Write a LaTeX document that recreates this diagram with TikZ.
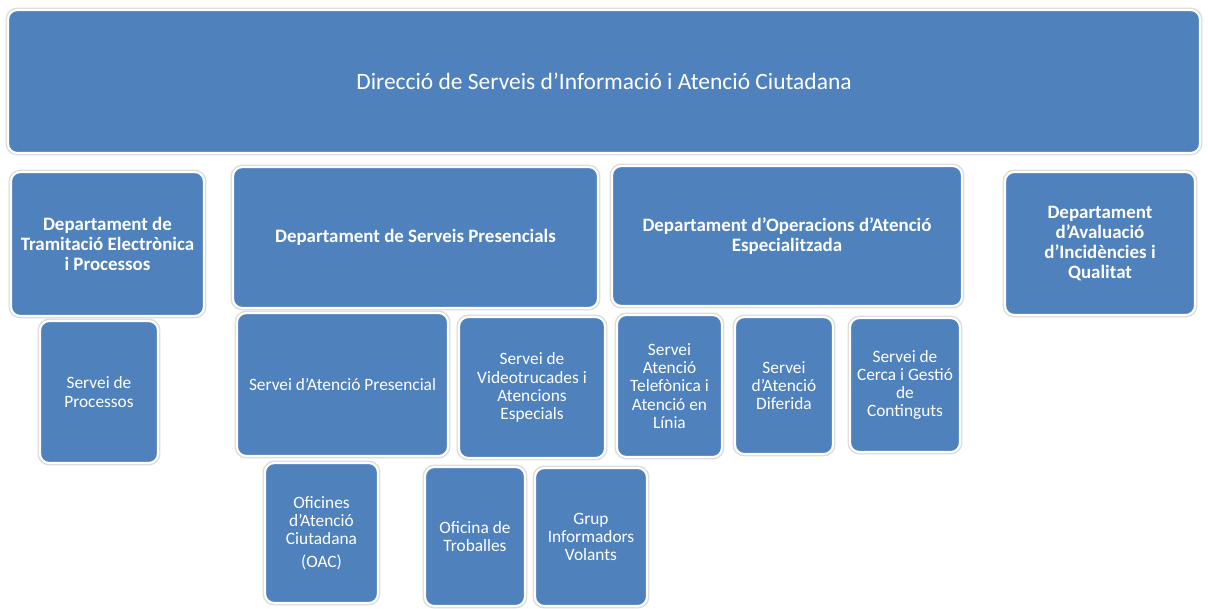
\documentclass[tikz,border=0pt]{standalone}
\usepackage{fontspec}
\setmainfont{Carlito}
\definecolor{boxblue}{HTML}{4F81BD}
\begin{document}
\begin{tikzpicture}[x=0.75pt,y=-0.75pt,
  box/.style={fill=boxblue, draw=white, line width=1.6pt, rounded corners=7pt,
    text=white, align=center, inner sep=2pt, outer sep=0pt,
    font=\fontsize{13}{13.6}\selectfont,
    preaction={draw=black!14, line width=3.6pt}},
  dept/.style={box, font=\bfseries\fontsize{14.2}{14.8}\selectfont},
  sz/.style 2 args={minimum width=#1*0.75pt, minimum height=#2*0.75pt}]
\useasboundingbox (0,0) rectangle (1208,608);
\fill[white] (0,0) rectangle (1208,608);

\node[box, sz={1192}{143}, font=\fontsize{17.6}{20}\selectfont] (dir) at (604,81.5)
  {Direcció de Serveis d'Informació i Atenció Ciutadana};

\node[dept, sz={193}{144}] (d1) at (107.5,244) {Departament de\\Tramitació Electrònica\\i Processos};
\node[dept, sz={365}{141}] (d2) at (415.5,237.5) {Departament de Serveis Presencials};
\node[dept, sz={350}{140}] (d3) at (787,236) {Departament d'Operacions d'Atenció\\Especialitzada};
\node[dept, sz={190}{143}] (d4) at (1100,243.5) {Departament\\d'Avaluació\\d'Incidències i\\Qualitat};

\node[box, sz={118}{142}] (s1) at (99,392) {Servei de\\Processos};
\node[box, sz={211}{143}] (s2) at (342.5,384.5) {Servei d'Atenció Presencial};
\node[box, sz={146}{141}] (s3) at (532,387.5) {Servei de\\Videotrucades i\\Atencions\\Especials};
\node[box, sz={105}{142}] (s4) at (669.5,386) {Servei\\Atenció\\Telefònica i\\Atenció en\\Línia};
\node[box, sz={98}{137}] (s5) at (784,385.5) {Servei\\d'Atenció\\Diferida};
\node[box, sz={110}{134}] (s6) at (905,385) {Servei de\\Cerca i Gestió\\de\\Continguts};

\node[box, sz={113}{140}] (o1) at (321.5,533) {Oficines\\d'Atenció\\Ciutadana\\[3pt](OAC)};
\node[box, sz={100}{139}] (o2) at (475,536.5) {Oficina de\\Troballes};
\node[box, sz={112}{138}] (o3) at (591,537) {Grup\\Informadors\\Volants};
\end{tikzpicture}
\end{document}
